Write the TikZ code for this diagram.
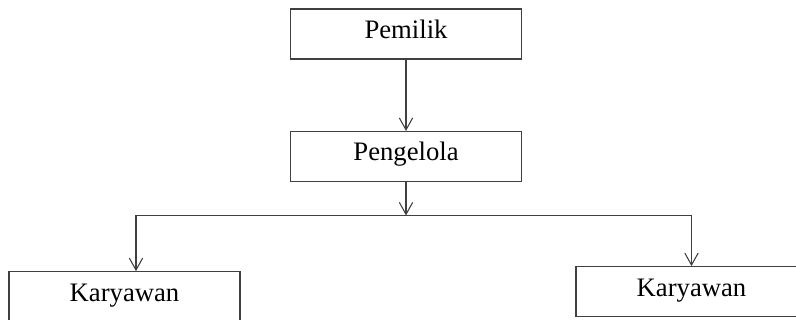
\documentclass[tikz,border=0pt]{standalone}
\usepackage{fontspec}
\setmainfont{Liberation Serif}
\usetikzlibrary{arrows.meta}

\tikzset{
    orgbox/.style={draw=black!75, line width=0.8pt, rectangle, inner sep=0pt,
        minimum width=173.25pt, minimum height=37.5pt,
        text height=22pt, text depth=15.5pt,
        font=\fontsize{20}{24}\selectfont},
    orgline/.style={draw=black!75, line width=0.8pt},
    orgarrow/.style={orgline, -{Straight Barb[length=9pt, width=10pt, line width=0.8pt]}}
}

\begin{document}
\begin{tikzpicture}[x=0.75pt, y=-0.75pt]

    % Fix the frame of the picture
    \clip (0,0) rectangle (796,320);

    % Define the boxes of the chart
    \node[orgbox] (pemilik) at (406,34) {Pemilik};
    \node[orgbox] (pengelola) at (406,156.5) {Pengelola};
    \node[orgbox] (karyawanA) at (124.5,296.7) {Karyawan};
    \node[orgbox] (karyawanB) at (691.5,291.7) {Karyawan};

    % Define the points of the horizontal bar
    \coordinate (bar) at (406,215.5);
    \coordinate (barL) at (136,215.5);
    \coordinate (barR) at (691.5,215.5);

    % Draw the arrow from Pemilik to Pengelola
    \draw[orgarrow] (pemilik) -- (pengelola);

    % Draw the arrow from Pengelola down to the bar
    \draw[orgarrow] (pengelola) -- (bar);

    % Draw the horizontal bar
    \draw[orgline] (barL) -- (barR);

    % Draw the arrows down to both Karyawan boxes
    \draw[orgarrow] (barL) -- (barL |- karyawanA.north);
    \draw[orgarrow] (barR) -- (karyawanB.north);

\end{tikzpicture}
\end{document}
